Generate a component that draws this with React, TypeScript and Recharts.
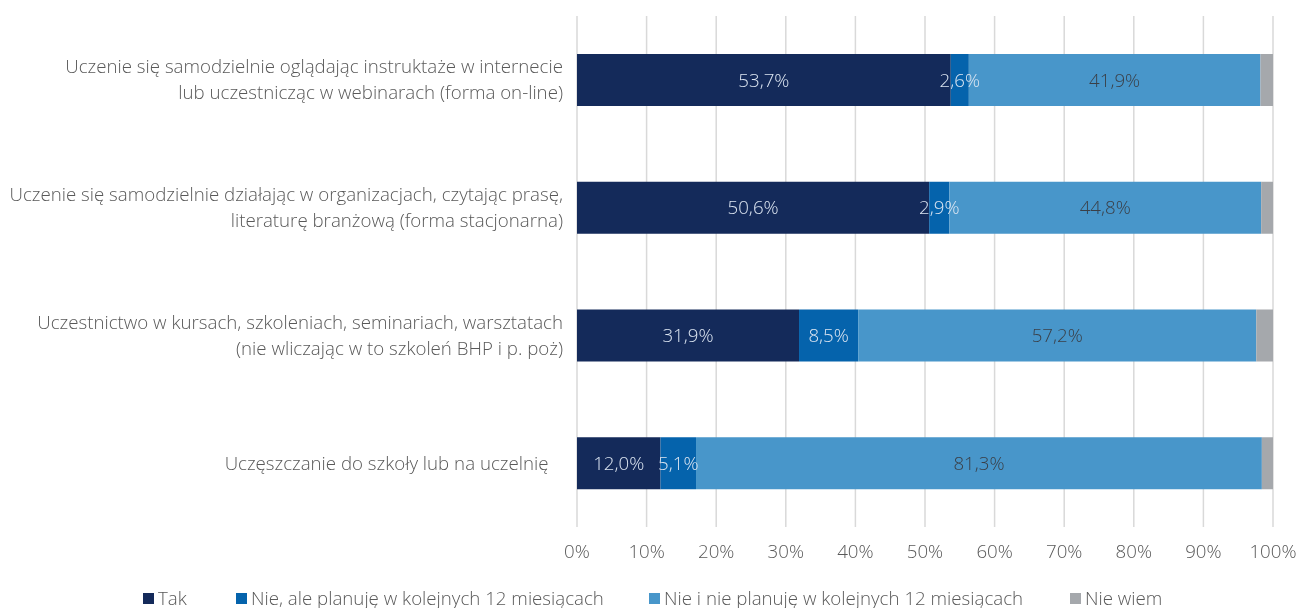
import React from 'react';
import { BarChart, Bar, XAxis, YAxis, CartesianGrid, Legend, LabelList } from 'recharts';

const categories = [
  'Uczenie się samodzielnie oglądając instruktaże w internecie\nlub uczestnicząc w webinarach (forma on-line)',
  'Uczenie się samodzielnie działając w organizacjach, czytając prasę,\nliteraturę branżową (forma stacjonarna)',
  'Uczestnictwo w kursach, szkoleniach, seminariach, warsztatach\n(nie wliczając w to szkoleń BHP i p. poż)',
  'Uczęszczanie do szkoły lub na uczelnię   ',
];
const tak = [53.7, 50.6, 31.9, 12.0];
const nieAle = [2.6, 2.9, 8.5, 5.1];
const nieINie = [41.9, 44.8, 57.2, 81.3];
const nieWiem = [1.8, 1.7, 2.4, 1.6];
const xTicks = [0, 10, 20, 30, 40, 50, 60, 70, 80, 90, 100];
const seriesNames = [
  'Tak',
  'Nie, ale planuję w kolejnych 12 miesiącach',
  'Nie i nie planuję w kolejnych 12 miesiącach',
  'Nie wiem',
];

const data = categories.map((name, i) => ({
  name,
  tak: tak[i],
  nieAle: nieAle[i],
  nieINie: nieINie[i],
  nieWiem: nieWiem[i],
}));

const FONT = '"Open Sans", "Noto Sans", sans-serif';
const FS = 18.7;
const LFS = 18.7;
const FW = 300;
const legendLefts = [143, 236, 649, 1070];

const fmt = (v: any) => Number(v).toFixed(1).replace('.', ',') + '%';

const CatTick = (props: any) => {
  const { x, y, payload } = props;
  const lines = String(payload.value).split('\n');
  const lh = 26;
  const y0 = y - ((lines.length - 1) * lh) / 2;
  return (
    <text
      x={x}
      y={y0}
      textAnchor="end"
      fill="#595959"
      fontSize={FS}
      fontWeight={FW}
      fontFamily={FONT}
      style={{ whiteSpace: 'pre' }}
    >
      {lines.map((l, i) => (
        <tspan key={i} x={x} y={y0 + i * lh} dy="0.35em">
          {l}
        </tspan>
      ))}
    </text>
  );
};

const LegendContent = (props: any) => {
  const payload = [...(props.payload || [])].sort(
    (a: any, b: any) => seriesNames.indexOf(a.value) - seriesNames.indexOf(b.value)
  );
  return (
    <div style={{ position: 'relative', height: 41, width: 1298 }}>
      {payload.map((p: any, i: number) => (
        <div
          key={i}
          style={{
            position: 'absolute',
            left: legendLefts[i],
            top: 20,
            display: 'flex',
            alignItems: 'center',
            whiteSpace: 'nowrap',
            fontFamily: FONT,
            fontSize: LFS,
            fontWeight: FW,
            color: '#595959',
            lineHeight: '22px',
          }}
        >
          <span style={{ display: 'inline-block', width: 11, height: 11, background: p.color, marginRight: 4 }} />
          <span>{p.value}</span>
        </div>
      ))}
    </div>
  );
};

export default function App() {
  return (
    <div style={{ position: 'fixed', left: 0, top: 0, width: 1298, height: 608 }}>
      <BarChart
        width={1298}
        height={608}
        data={data}
        layout="vertical"
        margin={{ top: 16, right: 25, left: 0, bottom: 0 }}
        barSize={52}
        style={{ overflow: 'visible' }}
      >
        <CartesianGrid horizontal={false} vertical stroke="#d9d9d9" strokeWidth={1.5} />
        <XAxis
          type="number"
          domain={[0, 100]}
          ticks={xTicks}
          tickFormatter={(v) => v + '%'}
          axisLine={false}
          tickLine={false}
          tickSize={0}
          tickMargin={18}
          height={40}
          tick={{ fill: '#595959', fontSize: FS, fontWeight: FW, fontFamily: FONT }}
          interval={0}
        />
        <YAxis
          type="category"
          dataKey="name"
          width={577}
          axisLine={false}
          tickLine={false}
          tickSize={0}
          tickMargin={14}
          tick={<CatTick />}
          interval={0}
        />
        <Legend verticalAlign="bottom" height={41} content={<LegendContent />} />
        <Bar dataKey="tak" name={seriesNames[0]} stackId="a" fill="#142A5A" isAnimationActive={false}>
          <LabelList dataKey="tak" position="center" formatter={fmt} fill="#dce5f1" fontSize={FS} fontWeight={FW} fontFamily={FONT} />
        </Bar>
        <Bar dataKey="nieAle" name={seriesNames[1]} stackId="a" fill="#0563AC" isAnimationActive={false}>
          <LabelList dataKey="nieAle" position="center" formatter={fmt} fill="#dce5f1" fontSize={FS} fontWeight={FW} fontFamily={FONT} />
        </Bar>
        <Bar dataKey="nieINie" name={seriesNames[2]} stackId="a" fill="#4896CA" isAnimationActive={false}>
          <LabelList dataKey="nieINie" position="center" formatter={fmt} fill="#3a3f47" fontSize={FS} fontWeight={FW} fontFamily={FONT} />
        </Bar>
        <Bar dataKey="nieWiem" name={seriesNames[3]} stackId="a" fill="#A5A8AC" isAnimationActive={false} />
      </BarChart>
    </div>
  );
}
